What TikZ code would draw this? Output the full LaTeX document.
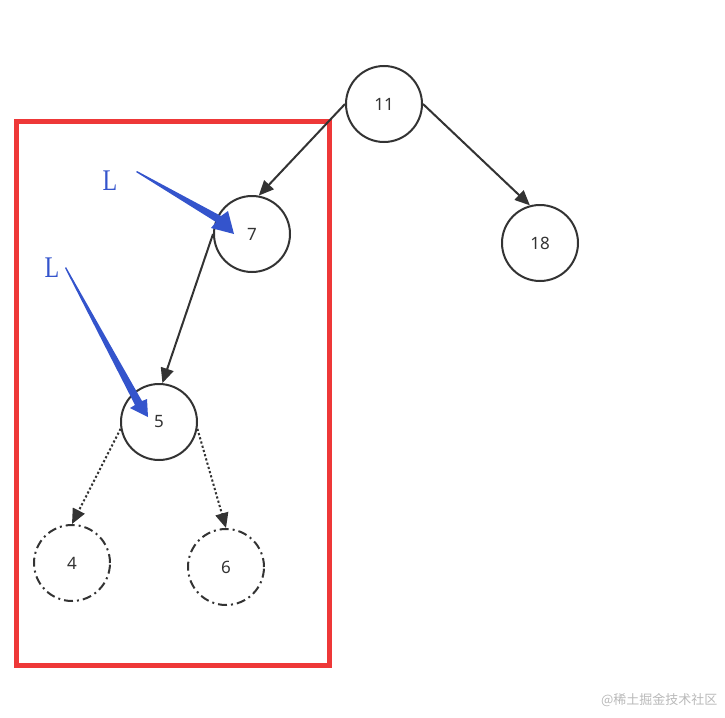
\documentclass[tikz,border=0pt]{standalone}
\usepackage{fontspec}
\setmainfont{Noto Sans}
\newfontfamily\serifL{Liberation Serif}
\newfontfamily\cjk{Noto Sans CJK SC}
\usepackage{xcolor}
\definecolor{treegray}{RGB}{51, 51, 51}
\definecolor{treered}{RGB}{238, 56, 56}
\definecolor{treeblue}{RGB}{52, 84, 204}
\definecolor{markgray}{RGB}{185, 185, 185}
\usetikzlibrary{arrows.meta,positioning}

\begin{document}
\begin{tikzpicture}[x=1pt, y=-1pt,
    treenode/.style={draw=treegray, circle, line width=2pt, minimum size=76pt, inner sep=0pt, text=treegray, font=\fontsize{17}{19}\selectfont},
    ghostnode/.style={treenode, dash pattern=on 9pt off 4pt on 2pt off 4pt},
    edge/.style={draw=treegray, line width=2pt, -{Triangle[length=15pt,width=13pt]}},
    ghostedge/.style={edge, dash pattern=on 2.2pt off 2.2pt}]
    \useasboundingbox (0,0) rectangle (725,717);

    % red frame round the left subtree
    \draw[treered, line width=5pt] (16.5,121.5) rectangle (329.5,665.5);

    % tree
    \node[treenode] (n11) at (384,104) {11};
    \node[treenode] (n7) at (252,234) {7};
    \node[treenode] (n18) at (540,243) {18};
    \node[treenode] (n5) at (159,422) {5};
    \node[ghostnode] (n4) at (72,563) {4};
    \node[ghostnode] (n6) at (226,567) {6};

    \draw[edge] (n11.west) -- (n7.80);
    \draw[edge] (n11.east) -- (n18.105);
    \draw[edge] (n7.west) -- (n5.85);
    \draw[ghostedge] (n5.190) -- (n4.north);
    \draw[ghostedge] (n5.-10) -- (n6.north);

    % blue pointers
    \node[text=treeblue, font=\serifL\fontsize{30}{30}\selectfont, xscale=0.8] (lone) at (110,181) {L};
    \node[text=treeblue, font=\serifL\fontsize{30}{30}\selectfont, xscale=0.8] (ltwo) at (52,268) {L};
    \fill[treeblue] (137,171) -- (221,216) -- (228,211) -- (234,234) -- (211,228) -- (216,222) -- (136,172) -- cycle;
    \fill[treeblue] (66,267) -- (142,401) -- (147,399) -- (148,417) -- (130,408) -- (135,405) -- (65,268) -- cycle;

    % watermark
    \node[text=markgray, font=\cjk\fontsize{13}{13}\selectfont, anchor=east] (mark) at (721,700) {@稀土掘金技术社区};
\end{tikzpicture}
\end{document}
